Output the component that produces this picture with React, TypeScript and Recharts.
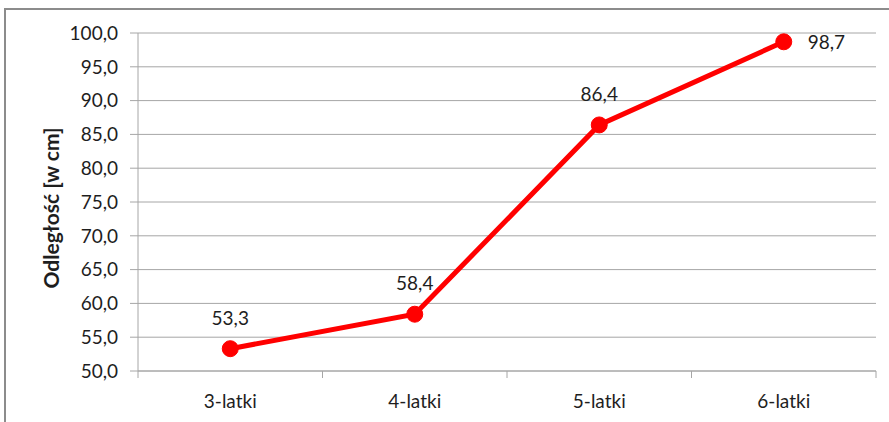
import React from "react";
import { LineChart, Line, XAxis, YAxis, CartesianGrid, LabelList } from "recharts";

const categories = ["3-latki", "4-latki", "5-latki", "6-latki"];
const values = [53.3, 58.4, 86.4, 98.7];
const yTicks = [50, 55, 60, 65, 70, 75, 80, 85, 90, 95, 100];
const yLabel = "Odległość [w cm]";

const data = categories.map((name, i) => ({ name, x: i + 0.5, value: values[i] }));
const xTicks: number[] = [];
for (let i = 0; i <= categories.length; i++) {
  xTicks.push(i);
  if (i < categories.length) xTicks.push(i + 0.5);
}

const FONT = "Lato, 'Open Sans', sans-serif";
const TEXT = "#1e1e1e";
const GRID = "#a6a6a6";
const FS = 19;

const fmt = (v: number) => v.toFixed(1).replace(".", ",");

const XTick = (props: any) => {
  const { x, y, payload } = props;
  const v = payload.value as number;
  if (Number.isInteger(v)) {
    return <line x1={x} x2={x} y1={y} y2={y + 7} stroke={GRID} strokeWidth={1} />;
  }
  const idx = Math.floor(v);
  return (
    <text x={x} y={y + 37} textAnchor="middle" fontSize={FS} fontFamily={FONT} fill={TEXT}>
      {categories[idx]}
    </text>
  );
};

const ValueLabel = (props: any) => {
  const { x, y, value, index } = props;
  const last = index === categories.length - 1;
  if (last) {
    return (
      <text x={x + 24} y={y + 7} textAnchor="start" fontSize={FS} fontFamily={FONT} fill={TEXT}>
        {fmt(value)}
      </text>
    );
  }
  return (
    <text x={x} y={y - 24} textAnchor="middle" fontSize={FS} fontFamily={FONT} fill={TEXT}>
      {fmt(value)}
    </text>
  );
};

export default function App() {
  return (
    <div style={{ position: "absolute", left: 0, top: 0, width: 889, height: 422, background: "#fff", overflow: "hidden" }}>
      <div
        style={{
          position: "absolute",
          left: 4,
          top: 8,
          width: 900,
          height: 430,
          borderLeft: "2px solid #8c8c8c",
          borderTop: "2px solid #8c8c8c",
          boxSizing: "border-box",
        }}
      />
      <div style={{ position: "absolute", left: 0, top: 0 }}>
        <LineChart width={889} height={422} data={data} margin={{ top: 33, right: 13, bottom: 21, left: 78 }}>
          <CartesianGrid vertical={false} stroke={GRID} strokeWidth={1} />
          <XAxis
            dataKey="x"
            type="number"
            domain={[0, categories.length]}
            ticks={xTicks}
            interval={0}
            height={30}
            tickSize={0}
            tickMargin={0}
            tickLine={false}
            axisLine={{ stroke: GRID }}
            tick={<XTick />}
          />
          <YAxis
            type="number"
            domain={[50, 100]}
            ticks={yTicks}
            interval={0}
            width={60}
            tickSize={8}
            tickMargin={12}
            tickLine={{ stroke: GRID }}
            axisLine={{ stroke: GRID }}
            tickFormatter={fmt}
            tick={{ fontSize: FS, fontFamily: FONT, fill: TEXT }}
            label={{
              content: () => (
                <text
                  x={50}
                  y={208}
                  transform="rotate(-90 50 208)"
                  textAnchor="middle"
                  dominantBaseline="central"
                  fontSize={21}
                  fontWeight="bold"
                  fontFamily={FONT}
                  fill={TEXT}
                >
                  {yLabel}
                </text>
              ),
            }}
          />
          <Line
            type="linear"
            dataKey="value"
            stroke="#ff0000"
            strokeWidth={5}
            dot={{ r: 8, fill: "#ff0000", stroke: "#ff0000", strokeWidth: 1 }}
            activeDot={false}
            isAnimationActive={false}
          >
            <LabelList dataKey="value" content={<ValueLabel />} />
          </Line>
        </LineChart>
      </div>
    </div>
  );
}
